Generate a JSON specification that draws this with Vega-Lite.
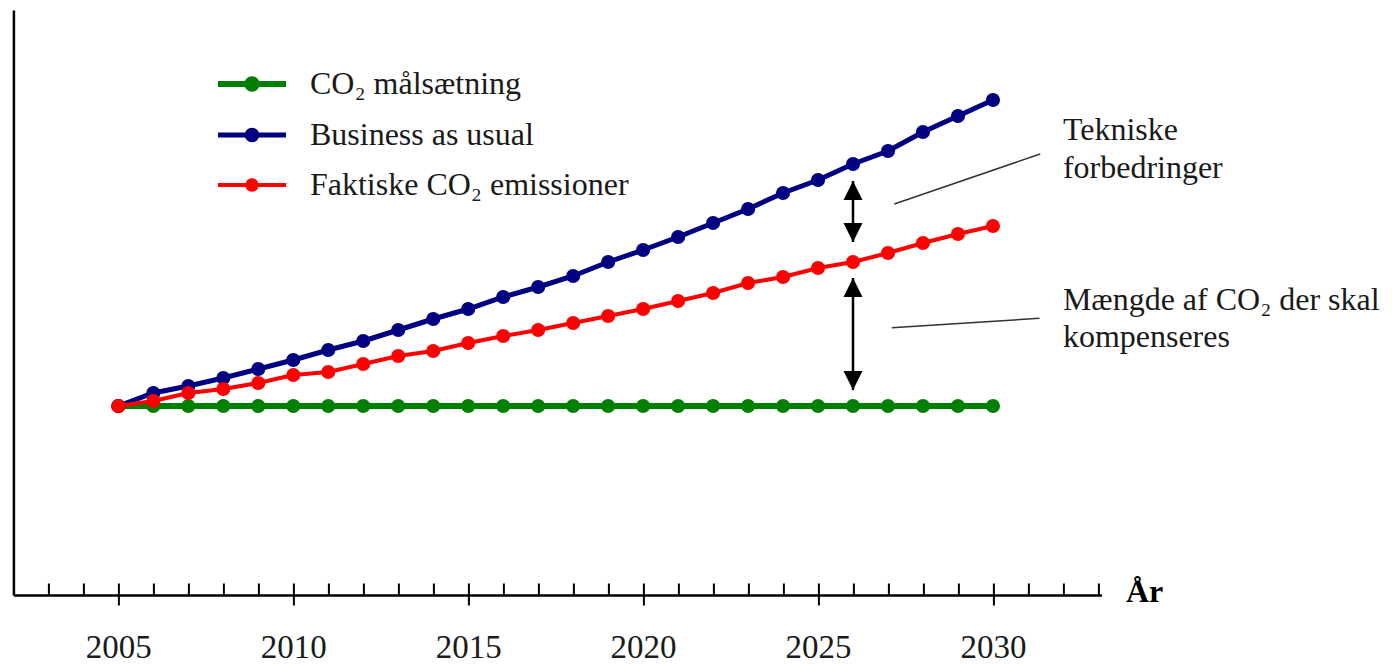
{
  "$schema": "https://vega.github.io/schema/vega-lite/v6.json",
  "width": 1088,
  "height": 585,
  "autosize": "none",
  "padding": {"left": 13.4, "top": 10, "right": 290, "bottom": 71},
  "background": "white",
  "config": {"view": {"stroke": null}, "font": "Liberation Serif"},
  "datasets": {
    "series": [
      {"series": "CO₂ målsætning", "year": 2005, "value": 189},
      {"series": "CO₂ målsætning", "year": 2006, "value": 189},
      {"series": "CO₂ målsætning", "year": 2007, "value": 189},
      {"series": "CO₂ målsætning", "year": 2008, "value": 189},
      {"series": "CO₂ målsætning", "year": 2009, "value": 189},
      {"series": "CO₂ målsætning", "year": 2010, "value": 189},
      {"series": "CO₂ målsætning", "year": 2011, "value": 189},
      {"series": "CO₂ målsætning", "year": 2012, "value": 189},
      {"series": "CO₂ målsætning", "year": 2013, "value": 189},
      {"series": "CO₂ målsætning", "year": 2014, "value": 189},
      {"series": "CO₂ målsætning", "year": 2015, "value": 189},
      {"series": "CO₂ målsætning", "year": 2016, "value": 189},
      {"series": "CO₂ målsætning", "year": 2017, "value": 189},
      {"series": "CO₂ målsætning", "year": 2018, "value": 189},
      {"series": "CO₂ målsætning", "year": 2019, "value": 189},
      {"series": "CO₂ målsætning", "year": 2020, "value": 189},
      {"series": "CO₂ målsætning", "year": 2021, "value": 189},
      {"series": "CO₂ målsætning", "year": 2022, "value": 189},
      {"series": "CO₂ målsætning", "year": 2023, "value": 189},
      {"series": "CO₂ målsætning", "year": 2024, "value": 189},
      {"series": "CO₂ målsætning", "year": 2025, "value": 189},
      {"series": "CO₂ målsætning", "year": 2026, "value": 189},
      {"series": "CO₂ målsætning", "year": 2027, "value": 189},
      {"series": "CO₂ målsætning", "year": 2028, "value": 189},
      {"series": "CO₂ målsætning", "year": 2029, "value": 189},
      {"series": "CO₂ målsætning", "year": 2030, "value": 189},
      {"series": "Business as usual", "year": 2005, "value": 189},
      {"series": "Business as usual", "year": 2006, "value": 202},
      {"series": "Business as usual", "year": 2007, "value": 209},
      {"series": "Business as usual", "year": 2008, "value": 217},
      {"series": "Business as usual", "year": 2009, "value": 226},
      {"series": "Business as usual", "year": 2010, "value": 235},
      {"series": "Business as usual", "year": 2011, "value": 245},
      {"series": "Business as usual", "year": 2012, "value": 254},
      {"series": "Business as usual", "year": 2013, "value": 265},
      {"series": "Business as usual", "year": 2014, "value": 276},
      {"series": "Business as usual", "year": 2015, "value": 286},
      {"series": "Business as usual", "year": 2016, "value": 298},
      {"series": "Business as usual", "year": 2017, "value": 308},
      {"series": "Business as usual", "year": 2018, "value": 319},
      {"series": "Business as usual", "year": 2019, "value": 333},
      {"series": "Business as usual", "year": 2020, "value": 345},
      {"series": "Business as usual", "year": 2021, "value": 358},
      {"series": "Business as usual", "year": 2022, "value": 372},
      {"series": "Business as usual", "year": 2023, "value": 386},
      {"series": "Business as usual", "year": 2024, "value": 402},
      {"series": "Business as usual", "year": 2025, "value": 415},
      {"series": "Business as usual", "year": 2026, "value": 431},
      {"series": "Business as usual", "year": 2027, "value": 444},
      {"series": "Business as usual", "year": 2028, "value": 463},
      {"series": "Business as usual", "year": 2029, "value": 479},
      {"series": "Business as usual", "year": 2030, "value": 495},
      {"series": "Faktiske CO₂ emissioner", "year": 2005, "value": 189},
      {"series": "Faktiske CO₂ emissioner", "year": 2006, "value": 194},
      {"series": "Faktiske CO₂ emissioner", "year": 2007, "value": 202},
      {"series": "Faktiske CO₂ emissioner", "year": 2008, "value": 206},
      {"series": "Faktiske CO₂ emissioner", "year": 2009, "value": 212},
      {"series": "Faktiske CO₂ emissioner", "year": 2010, "value": 220},
      {"series": "Faktiske CO₂ emissioner", "year": 2011, "value": 223},
      {"series": "Faktiske CO₂ emissioner", "year": 2012, "value": 231},
      {"series": "Faktiske CO₂ emissioner", "year": 2013, "value": 239},
      {"series": "Faktiske CO₂ emissioner", "year": 2014, "value": 244},
      {"series": "Faktiske CO₂ emissioner", "year": 2015, "value": 252},
      {"series": "Faktiske CO₂ emissioner", "year": 2016, "value": 259},
      {"series": "Faktiske CO₂ emissioner", "year": 2017, "value": 265},
      {"series": "Faktiske CO₂ emissioner", "year": 2018, "value": 272},
      {"series": "Faktiske CO₂ emissioner", "year": 2019, "value": 279},
      {"series": "Faktiske CO₂ emissioner", "year": 2020, "value": 286},
      {"series": "Faktiske CO₂ emissioner", "year": 2021, "value": 294},
      {"series": "Faktiske CO₂ emissioner", "year": 2022, "value": 302},
      {"series": "Faktiske CO₂ emissioner", "year": 2023, "value": 312},
      {"series": "Faktiske CO₂ emissioner", "year": 2024, "value": 318},
      {"series": "Faktiske CO₂ emissioner", "year": 2025, "value": 327},
      {"series": "Faktiske CO₂ emissioner", "year": 2026, "value": 333},
      {"series": "Faktiske CO₂ emissioner", "year": 2027, "value": 342},
      {"series": "Faktiske CO₂ emissioner", "year": 2028, "value": 352},
      {"series": "Faktiske CO₂ emissioner", "year": 2029, "value": 361},
      {"series": "Faktiske CO₂ emissioner", "year": 2030, "value": 369}
    ],
    "shafts": [
      {"year": 2026, "from": 414, "to": 353},
      {"year": 2026, "from": 317, "to": 205}
    ],
    "heads": [
      {"year": 2026, "value": 404.5, "dir": "up"},
      {"year": 2026, "value": 362.5, "dir": "down"},
      {"year": 2026, "value": 307.5, "dir": "up"},
      {"year": 2026, "value": 214.5, "dir": "down"}
    ],
    "leaders": [
      {"x1": 2027.18, "v1": 391, "x2": 2031.35, "v2": 441},
      {"x1": 2027.11, "v1": 267.3, "x2": 2031.33, "v2": 276.7}
    ],
    "notes": [
      {"text": "Tekniske", "year": 2032, "value": 455},
      {"text": "forbedringer", "year": 2032, "value": 417},
      {"text": "Mængde af CO₂ der skal", "year": 2032, "value": 285},
      {"text": "kompenseres", "year": 2032, "value": 248}
    ]
  },
  "resolve": {"axis": {"x": "independent", "y": "independent"}},
  "layer": [
    {
      "data": {"name": "series"},
      "mark": {"type": "line", "point": {"filled": true, "size": 200, "opacity": 1}},
      "encoding": {
        "x": {
          "field": "year", "type": "quantitative",
          "scale": {"domain": [2002, 2033.1], "nice": false, "zero": false},
          "axis": {
            "orient": "bottom",
            "values": [2003, 2004, 2005, 2006, 2007, 2008, 2009, 2010, 2011, 2012, 2013, 2014, 2015, 2016, 2017, 2018, 2019, 2020, 2021, 2022, 2023, 2024, 2025, 2026, 2027, 2028, 2029, 2030, 2031, 2032, 2033],
            "labels": false, "title": null, "grid": false,
            "tickSize": -12, "tickWidth": 2, "tickColor": "black",
            "domain": true, "domainWidth": 2.5, "domainColor": "black"
          }
        },
        "y": {
          "field": "value", "type": "quantitative",
          "scale": {"domain": [0, 585], "nice": false, "zero": false},
          "axis": {
            "orient": "left",
            "domain": true, "domainWidth": 2.5, "domainColor": "black",
            "ticks": false, "labels": false, "title": null, "grid": false
          }
        },
        "color": {
          "field": "series", "type": "nominal",
          "scale": {
            "domain": ["CO₂ målsætning", "Business as usual", "Faktiske CO₂ emissioner"],
            "range": ["#008000", "#000080", "#ff0000"]
          },
          "legend": {
            "orient": "none", "legendX": 218.6, "legendY": 54, "title": null,
            "padding": 0,
            "symbolType": "M-2,0H2M-0.28,0A0.28,0.28,0,1,1,0.28,0A0.28,0.28,0,1,1,-0.28,0Z",
            "symbolSize": 1156, "symbolStrokeWidth": 5,
            "labelFont": "Liberation Serif", "labelFontSize": 32, "labelColor": "#1a1a1a",
            "labelOffset": 38, "labelLimit": 0, "rowPadding": 14.5,
            "encode": {
              "symbols": {
                "update": {
                  "fill": {"scale": "color", "field": "value"},
                  "stroke": {"scale": "color", "field": "value"},
                  "opacity": {"value": 1}
                }
              }
            }
          }
        },
        "strokeWidth": {
          "field": "series", "type": "nominal",
          "scale": {
            "domain": ["CO₂ målsætning", "Business as usual", "Faktiske CO₂ emissioner"],
            "range": [6, 4, 4]
          },
          "legend": null
        }
      }
    },
    {
      "data": {"name": "leaders"},
      "mark": {"type": "rule", "color": "#333333", "strokeWidth": 1.5},
      "encoding": {
        "x": {"field": "x1", "type": "quantitative", "axis": null},
        "x2": {"field": "x2"},
        "y": {"field": "v1", "type": "quantitative", "axis": null},
        "y2": {"field": "v2"}
      }
    },
    {
      "data": {"name": "shafts"},
      "mark": {"type": "rule", "color": "black", "strokeWidth": 2.5},
      "encoding": {
        "x": {"field": "year", "type": "quantitative", "axis": null},
        "y": {"field": "from", "type": "quantitative", "axis": null},
        "y2": {"field": "to"}
      }
    },
    {
      "data": {"name": "heads"},
      "mark": {"type": "point", "filled": true, "color": "black", "opacity": 1, "size": 361},
      "encoding": {
        "x": {"field": "year", "type": "quantitative", "axis": null},
        "y": {"field": "value", "type": "quantitative", "axis": null},
        "shape": {
          "field": "dir", "type": "nominal",
          "scale": {"domain": ["up", "down"], "range": ["M0,-1L1,1L-1,1Z", "M0,1L1,-1L-1,-1Z"]},
          "legend": null
        }
      }
    },
    {
      "data": {"name": "notes"},
      "mark": {"type": "text", "align": "left", "baseline": "alphabetic", "font": "Liberation Serif", "fontSize": 32, "color": "#1a1a1a"},
      "encoding": {
        "x": {
          "field": "year", "type": "quantitative",
          "axis": {
            "orient": "bottom",
            "values": [2005, 2010, 2015, 2020, 2025, 2030],
            "format": "d", "grid": false, "domain": false,
            "tickSize": 10, "tickWidth": 2, "tickColor": "black",
            "labelFont": "Liberation Serif", "labelFontSize": 33, "labelColor": "#1a1a1a",
            "labelPadding": 53, "labelBaseline": "alphabetic", "labelFlush": false, "labelOverlap": false,
            "title": "År", "titleFont": "Liberation Serif", "titleFontSize": 32, "titleFontWeight": "bold",
            "titleColor": "black", "titleX": 1112, "titleY": 7, "titleAlign": "left", "titleBaseline": "alphabetic"
          }
        },
        "y": {"field": "value", "type": "quantitative", "axis": null},
        "text": {"field": "text"}
      }
    }
  ]
}
